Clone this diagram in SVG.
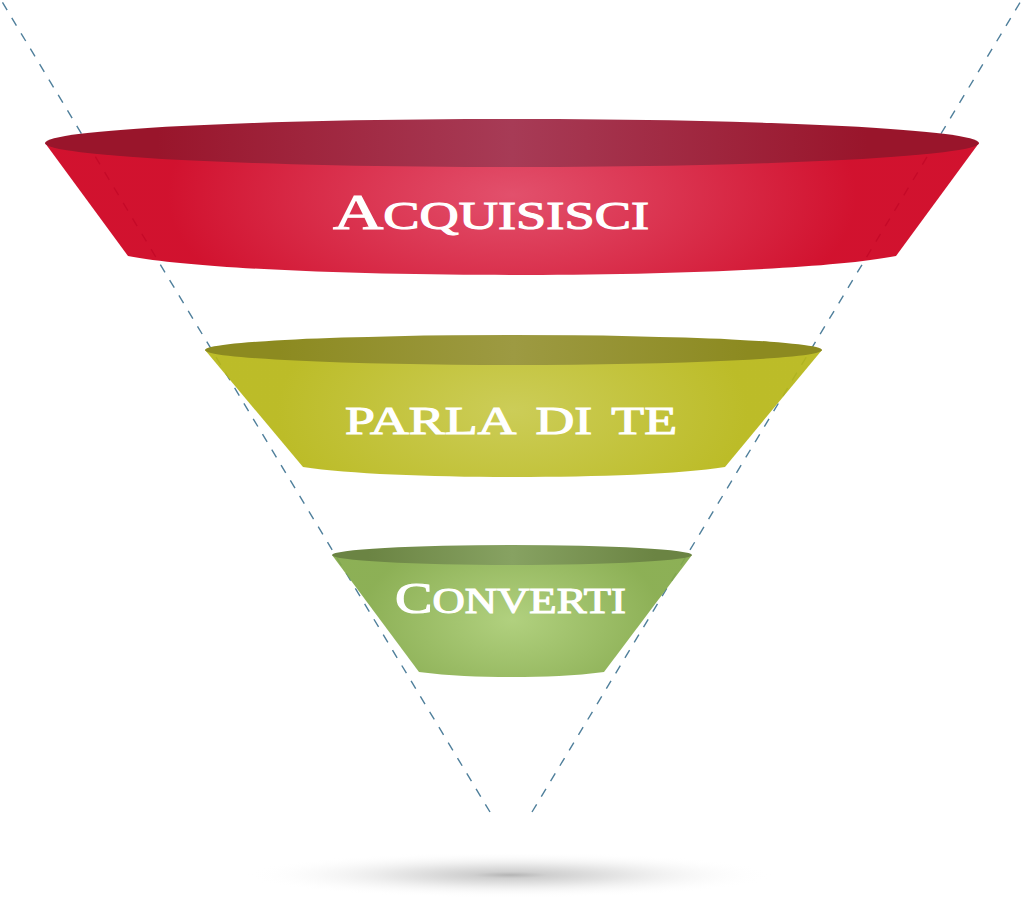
<svg xmlns="http://www.w3.org/2000/svg" width="1024" height="898" viewBox="0 0 1024 898">
<style>
.dash{fill:none;stroke:#4f7f9b;stroke-width:1.4;stroke-dasharray:9 9}
.lbl{font-family:"Liberation Serif",serif;font-variant:small-caps;fill:#fff;stroke:#fff;stroke-width:1.1}
.body{opacity:.93}
</style>
<defs>
<radialGradient id="r1" gradientUnits="userSpaceOnUse" cx="512" cy="195" r="1" gradientTransform="translate(512 195) scale(345 160) translate(-512 -195)"><stop offset="0" stop-color="#e04361"/><stop offset="1" stop-color="#ce001f"/></radialGradient>
<linearGradient id="t1"><stop offset=".12" stop-color="#99152b"/><stop offset=".5" stop-color="#a73b56"/><stop offset=".88" stop-color="#99152b"/></linearGradient>
<radialGradient id="r2" gradientUnits="userSpaceOnUse" cx="512" cy="410" r="1" gradientTransform="translate(512 410) scale(235 120) translate(-512 -410)"><stop offset="0" stop-color="#c8c94b"/><stop offset="1" stop-color="#b7b718"/></radialGradient>
<linearGradient id="t2"><stop offset=".12" stop-color="#8c8a20"/><stop offset=".5" stop-color="#9d9a42"/><stop offset=".88" stop-color="#8c8a20"/></linearGradient>
<radialGradient id="r3" gradientUnits="userSpaceOnUse" cx="512" cy="620" r="1" gradientTransform="translate(512 620) scale(150 90) translate(-512 -620)"><stop offset="0" stop-color="#abcd75"/><stop offset="1" stop-color="#84aa49"/></radialGradient>
<linearGradient id="t3"><stop offset=".1" stop-color="#6b8443"/><stop offset=".5" stop-color="#87a262"/><stop offset=".9" stop-color="#6b8443"/></linearGradient>
<radialGradient id="sh"><stop offset="0" stop-color="#b4b4b4"/><stop offset=".14" stop-color="#cfcfcf"/><stop offset=".45" stop-color="#e8e8e8"/><stop offset="1" stop-color="#fff" stop-opacity="0"/></radialGradient>
</defs>
<g id="connectors">
<path class="dash" d="M490,812L1,0"/>
<path class="dash" d="M532,812L1024,-4"/>
</g>
<g id="shadow"><ellipse cx="510" cy="875" rx="265" ry="23" fill="url(#sh)"/></g>
<g id="acquisisci">
<path class="body" fill="url(#r1)" d="M45,143L128,256C200,270 380,275 512,275S824,270 896,256L979,143Z"/>
<ellipse cx="512" cy="143" rx="467" ry="24" fill="url(#t1)"/>
<text class="lbl" x="333" y="229" textLength="316" lengthAdjust="spacingAndGlyphs" font-size="50">A<tspan font-size="56">cquisisci</tspan></text>
</g>
<g id="parla">
<path class="body" fill="url(#r2)" d="M205,350L303,467C350,474 430,477 514,477S680,474 725,467L822,350Z"/>
<ellipse cx="513.500" cy="350" rx="308.500" ry="15" fill="url(#t2)"/>
<text class="lbl" x="345" y="434" textLength="332" lengthAdjust="spacingAndGlyphs" font-size="58">parla di te</text>
</g>
<g id="converti">
<path class="body" fill="url(#r3)" d="M332,555L419,672C450,676 480,677 512,677S575,676 604,672L692,555Z"/>
<ellipse cx="512" cy="555" rx="180" ry="10" fill="url(#t3)"/>
<text class="lbl" x="395" y="613" textLength="231" lengthAdjust="spacingAndGlyphs" font-size="44">C<tspan font-size="50">onverti</tspan></text>
</g>
</svg>
